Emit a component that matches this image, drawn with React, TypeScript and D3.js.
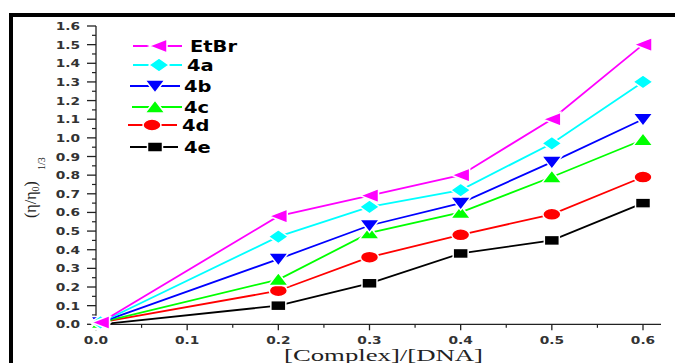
import React from "react";
import * as d3 from "d3";

const xValues = [0.005, 0.2, 0.3, 0.4, 0.5, 0.6];
const seriesNames = ["EtBr", "4a", "4b", "4c", "4d", "4e"];
const etbr = [0.01, 0.58, 0.69, 0.8, 1.1, 1.5];
const s4a = [0.01, 0.47, 0.63, 0.72, 0.97, 1.3];
const s4b = [0.01, 0.35, 0.53, 0.65, 0.87, 1.1];
const s4c = [0.01, 0.24, 0.49, 0.6, 0.79, 0.99];
const s4d = [0.01, 0.18, 0.36, 0.48, 0.59, 0.79];
const s4e = [0.0, 0.1, 0.22, 0.38, 0.45, 0.65];
const xTicks = [0, 0.1, 0.2, 0.3, 0.4, 0.5, 0.6];
const yTicks = [0, 0.1, 0.2, 0.3, 0.4, 0.5, 0.6, 0.7, 0.8, 0.9, 1.0, 1.1, 1.2, 1.3, 1.4, 1.5, 1.6];

const seriesValues = [etbr, s4a, s4b, s4c, s4d, s4e];
const colors = ["#ff00ff", "#00ffff", "#0000ff", "#00ff00", "#ff0000", "#000000"];
const symbols = ["left", "diamond", "down", "up", "circle", "square"];

// legend layout
const legendY = [46, 65, 86, 107, 125, 147];
const legendLine = [[133, 182], [133, 182], [130, 180], [132, 182], [128, 177], [130, 178]];
const legendMarkerX = [158, 159, 155, 155, 152, 155];
const legendTextX = [190, 187, 184, 184, 182, 184];

function Marker({ type, x, y, color, stroke = "#fff" }: any) {
  const sw = 1.5;
  if (type === "left")
    return <path d={`M${x - 9},${y} L${x + 9},${y - 7} L${x + 9},${y + 7} Z`} fill={color} stroke={stroke} strokeWidth={sw} />;
  if (type === "diamond")
    return <path d={`M${x - 10},${y} L${x},${y - 7} L${x + 10},${y} L${x},${y + 7} Z`} fill={color} stroke={stroke} strokeWidth={sw} />;
  if (type === "down")
    return <path d={`M${x - 10},${y - 6} L${x + 10},${y - 6} L${x},${y + 7} Z`} fill={color} stroke={stroke} strokeWidth={sw} />;
  if (type === "up")
    return <path d={`M${x - 10},${y + 6} L${x + 10},${y + 6} L${x},${y - 7} Z`} fill={color} stroke={stroke} strokeWidth={sw} />;
  if (type === "circle")
    return <ellipse cx={x} cy={y} rx={9} ry={6} fill={color} stroke={stroke} strokeWidth={sw} />;
  return <rect x={x - 7.5} y={y - 5} width={15} height={10} fill={color} stroke={stroke} strokeWidth={sw} />;
}

export default function App() {
  const W = 675, H = 363;
  const x = d3.scaleLinear().domain([0, 0.6]).range([96, 643]);
  const y = d3.scaleLinear().domain([0, 1.6]).range([324.3, 26]);
  const line = d3.line<number>().x((_, i) => x(xValues[i])).y((d) => y(d));

  const xMinor = d3.range(0, 13).map((i) => i * 0.05).filter((_, i) => i % 2 === 1);
  const yMinor = d3.range(0, 32).map((i) => i * 0.05).filter((_, i) => i % 2 === 1);

  const tickFont = "'DejaVu Sans', Verdana, sans-serif";
  const serif = "'Liberation Serif', 'Times New Roman', serif";

  const order = [5, 4, 3, 2, 1, 0];

  return (
    <svg width={W} height={H} style={{ position: "absolute", left: 0, top: 0, background: "#fff" }}>
      <rect x={0} y={0} width={W} height={H} fill="#fff" />
      {/* frame */}
      <rect x={10} y={13} width={665} height={4} fill="#000" />
      <rect x={9} y={13} width={4} height={350} fill="#000" />

      {/* axes */}
      <line x1={96} x2={96} y1={y(0)} y2={y(1.6)} stroke="#222" strokeWidth={1.3} />
      <line x1={96} x2={661} y1={y(0)} y2={y(0)} stroke="#222" strokeWidth={1.3} />
      {yTicks.map((t) => (
        <g key={"yt" + t}>
          <line x1={87} x2={96} y1={y(t)} y2={y(t)} stroke="#222" strokeWidth={1.3} />
          <g transform={`translate(80,${y(t) + 4}) scale(1.25,1)`}>
            <text x={0} y={0} textAnchor="end" fontFamily={tickFont} fontWeight="bold" fontSize={11} fill="#333">
              {t.toFixed(1)}
            </text>
          </g>
        </g>
      ))}
      {yMinor.map((t) => (
        <line key={"ym" + t} x1={92} x2={96} y1={y(t)} y2={y(t)} stroke="#222" strokeWidth={1.2} />
      ))}
      {xTicks.map((t) => (
        <g key={"xt" + t}>
          <line x1={x(t)} x2={x(t)} y1={y(0)} y2={y(0) + 6} stroke="#222" strokeWidth={1.3} />
          <g transform={`translate(${x(t)},${y(0) + 20}) scale(1.25,1)`}>
            <text x={0} y={0} textAnchor="middle" fontFamily={tickFont} fontWeight="bold" fontSize={11} fill="#333">
              {t.toFixed(1)}
            </text>
          </g>
        </g>
      ))}
      {xMinor.map((t) => (
        <line key={"xm" + t} x1={x(t)} x2={x(t)} y1={y(0)} y2={y(0) + 3.5} stroke="#222" strokeWidth={1.2} />
      ))}

      {/* axis titles */}
      <text x={284} y={361} fontFamily={serif} fontSize={16} fill="#222"
        textLength={199} lengthAdjust="spacingAndGlyphs">
        [Complex]/[DNA]
      </text>
      <g transform="translate(36,218) rotate(-90)">
        <text x={0} y={0} fontFamily={serif} fontSize={16} fill="#222">
          (η/η<tspan fontSize={10} dy={3}>0</tspan><tspan dy={-3}>)</tspan>
        </text>
      </g>
      <g transform="translate(45,170) rotate(-90)">
        <text x={0} y={0} fontFamily={serif} fontSize={10} fill="#222">
          1/3
        </text>
      </g>

      {/* series */}
      {order.map((si) => (
        <path key={"l" + si} d={line(seriesValues[si]) || ""} fill="none" stroke={colors[si]} strokeWidth={1.8} />
      ))}
      {order.map((si) =>
        seriesValues[si].map((v, i) => (
          <Marker key={"m" + si + "-" + i} type={symbols[si]} x={x(xValues[i])} y={y(v)} color={colors[si]} />
        ))
      )}

      {/* legend */}
      {seriesNames.map((name, i) => (
        <g key={"lg" + name}>
          <line x1={legendLine[i][0]} x2={legendLine[i][1]} y1={legendY[i]} y2={legendY[i]} stroke={colors[i]} strokeWidth={1.8} />
          <Marker type={symbols[i]} x={legendMarkerX[i]} y={legendY[i]} color={colors[i]} />
          <g transform={`translate(${legendTextX[i]},${legendY[i] + 6}) scale(1.18,1)`}>
            <text x={0} y={0} fontFamily={tickFont} fontWeight="bold" fontSize={16.5} fill="#000">
              {name}
            </text>
          </g>
        </g>
      ))}
    </svg>
  );
}
